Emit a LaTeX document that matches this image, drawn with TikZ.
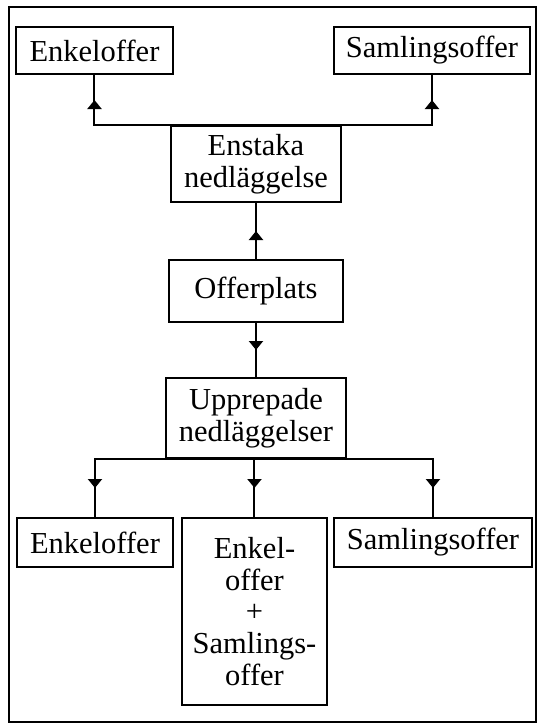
\documentclass[tikz,border=0pt]{standalone}
\usepackage{fontspec}
\setmainfont{Liberation Serif}
\usetikzlibrary{arrows.meta,positioning,decorations.markings}

\begin{document}
\begin{tikzpicture}[
    font=\fontsize{15.25}{15.8}\selectfont,
    box/.style={rectangle, draw, line width=1pt, align=center, inner sep=2pt, minimum height=23.5pt},
    midarrow/.style={line width=1pt, postaction={decorate}, decoration={markings, mark=at position 0.5 with {\arrow{Triangle[width=7pt,length=4.5pt]}}}}
]

\useasboundingbox (-128pt,145.5pt) rectangle (143pt,-216.5pt);

% Frame
\draw[line width=1pt] (-123.5pt,142pt) rectangle (140pt,-215.5pt);

% Middle column
\node[box, minimum width=87pt, minimum height=31pt] (offerplats) {Offerplats};
\node[box, minimum width=85pt, minimum height=38pt, above=28pt of offerplats] (enstaka) {Enstaka\\nedläggelse};
\node[box, minimum width=90pt, minimum height=40pt, below=27pt of offerplats] (upprepade) {Upprepade\\nedläggelser};

% Upper row
\node[box, minimum width=78.5pt, above=25pt of enstaka.north, xshift=-80.75pt] (enkelA) {Enkeloffer};
\node[box, minimum width=98pt, above=25pt of enstaka.north, xshift=88pt] (samlingA) {Samlingsoffer};

% Lower row
\node[box, minimum width=78pt, minimum height=24.5pt, below=29pt of upprepade.south, xshift=-80.5pt] (enkelB) {Enkeloffer};
\node[box, minimum width=72.5pt, minimum height=93.5pt, below=29pt of upprepade.south, xshift=-0.75pt] (bada) {Enkel-\\offer\\+\\Samlings-\\offer};
\node[box, minimum width=98.5pt, minimum height=24.5pt, below=29pt of upprepade.south, xshift=88.5pt] (samlingB) {Samlingsoffer};

% Branch points
\coordinate (topL) at (enkelA |- enstaka.north);
\coordinate (topR) at (samlingA |- enstaka.north);
\coordinate (botL) at (enkelB |- upprepade.south);
\coordinate (botM) at (bada |- upprepade.south);
\coordinate (botR) at (samlingB |- upprepade.south);

% Arrows
\draw[line width=1pt, line cap=rect] (topL) -- (topR);
\draw[midarrow] (topL) -- (enkelA);
\draw[midarrow] (topR) -- (samlingA);
\draw[midarrow] (offerplats) -- (enstaka);
\draw[midarrow] (offerplats) -- (upprepade);
\draw[line width=1pt, line cap=rect] (botL) -- (botR);
\draw[midarrow] (botL) -- (enkelB);
\draw[midarrow] (botM) -- (bada);
\draw[midarrow] (botR) -- (samlingB);

\end{tikzpicture}
\end{document}
